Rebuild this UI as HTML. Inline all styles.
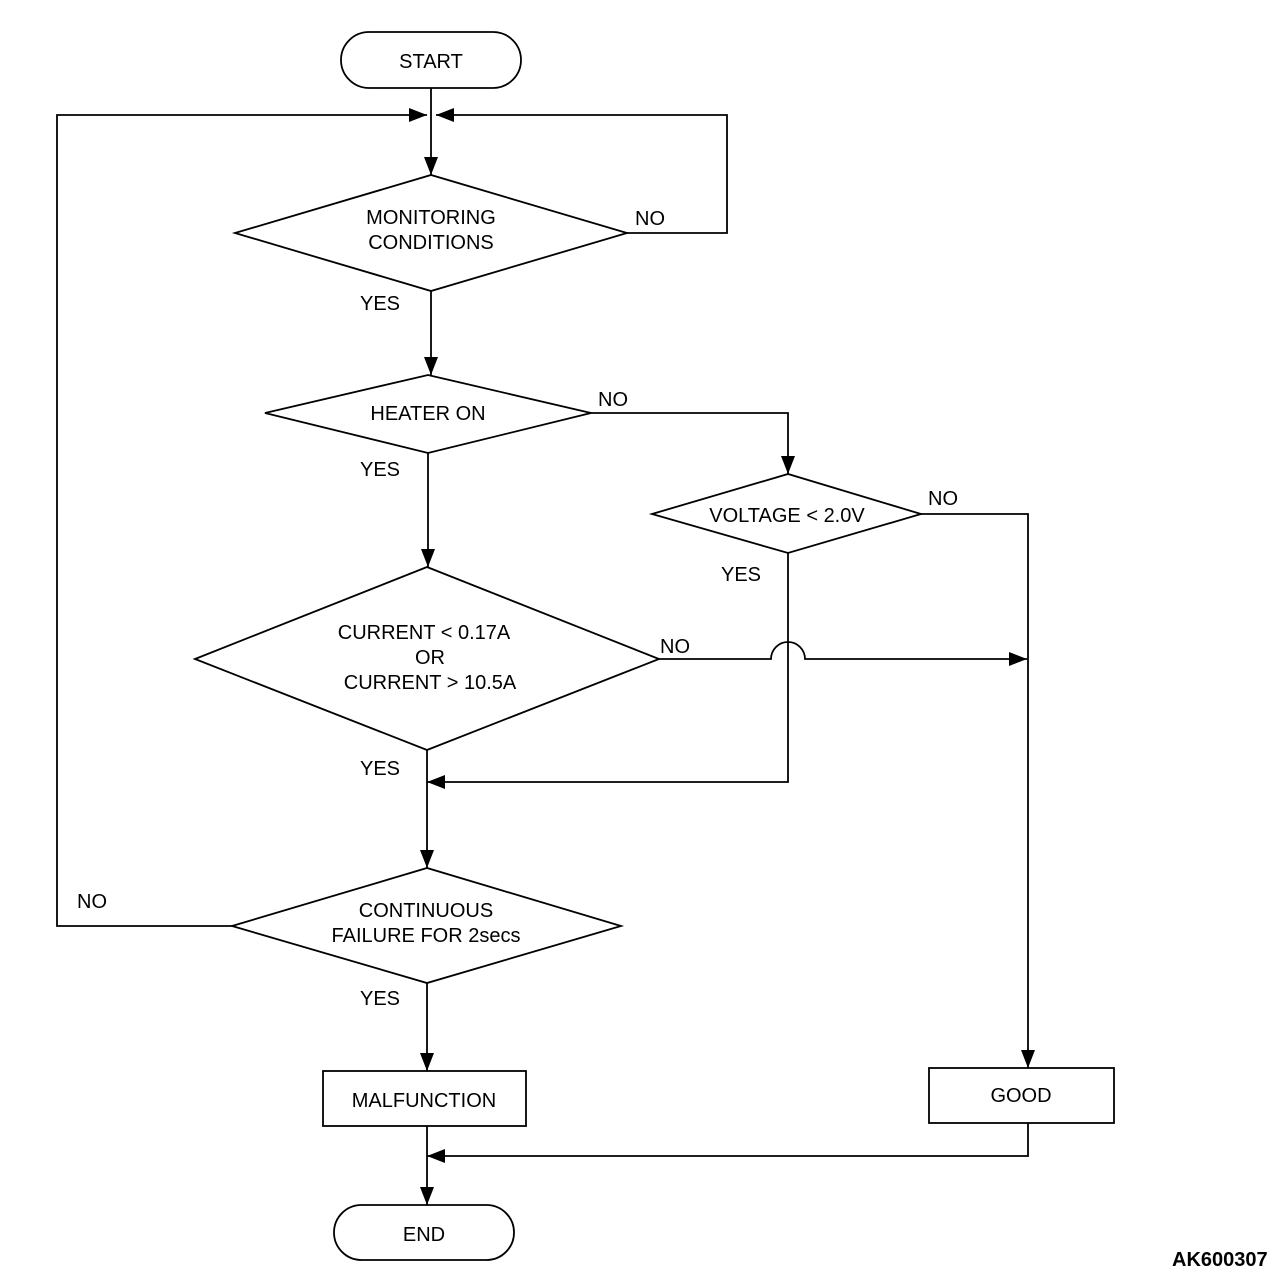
<!DOCTYPE html>
<html><head><meta charset="utf-8"><style>
html,body{margin:0;padding:0;background:#fff;}
svg{display:block;}
text{font-family:"Liberation Sans",sans-serif;font-size:20px;fill:#000;}
</style></head><body>
<svg width="1280" height="1288" viewBox="0 0 1280 1288" xmlns="http://www.w3.org/2000/svg">
<defs>
<marker id="a" viewBox="0 0 18 14" refX="18" refY="7" markerWidth="18" markerHeight="14" markerUnits="userSpaceOnUse" orient="auto">
<path d="M0,0 L18,7 L0,14 Z" fill="#000"/></marker>
</defs>
<g fill="none" stroke="#000" stroke-width="1.8">
<rect x="341" y="32" width="180" height="56" rx="28"/>
<rect x="334" y="1205" width="180" height="55" rx="27.5"/>
<rect x="323" y="1071" width="203" height="55"/>
<rect x="929" y="1068" width="185" height="55"/>
<polygon points="235,233 431,175 627,233 431,291"/>
<polygon points="265,413 428,375 591,413 428,453"/>
<polygon points="195,659 427,567 659,659 427,750"/>
<polygon points="652,514 788,474 921,514 788,553"/>
<polygon points="232,926 427,868 621,926 427,983"/>
<line x1="431" y1="88" x2="431" y2="175" marker-end="url(#a)"/>
<polyline points="232,926 57,926 57,115 427,115" marker-end="url(#a)"/>
<polyline points="627,233 727,233 727,115 436,115" marker-end="url(#a)"/>
<line x1="431" y1="291" x2="431" y2="375" marker-end="url(#a)"/>
<polyline points="591,413 788,413 788,474" marker-end="url(#a)"/>
<line x1="428" y1="453" x2="428" y2="567" marker-end="url(#a)"/>
<path d="M659,659 L771,659 A17,17 0 0 1 805,659 L1027,659" marker-end="url(#a)"/>
<polyline points="921,514 1028,514 1028,1068" marker-end="url(#a)"/>
<polyline points="788,553 788,782 427,782" marker-end="url(#a)"/>
<line x1="427" y1="750" x2="427" y2="868" marker-end="url(#a)"/>
<line x1="427" y1="983" x2="427" y2="1071" marker-end="url(#a)"/>
<line x1="427" y1="1126" x2="427" y2="1205" marker-end="url(#a)"/>
<polyline points="1028,1123 1028,1156 427,1156" marker-end="url(#a)"/>
</g>
<g text-anchor="middle">
<text x="431" y="68" font-size="22">START</text>
<text x="424" y="1241" font-size="22">END</text>
<text x="431" y="224">MONITORING</text>
<text x="431" y="249">CONDITIONS</text>
<text x="428" y="420">HEATER ON</text>
<text x="424" y="639">CURRENT &lt; 0.17A</text>
<text x="430" y="664">OR</text>
<text x="430" y="689">CURRENT &gt; 10.5A</text>
<text x="787" y="522">VOLTAGE &lt; 2.0V</text>
<text x="426" y="917">CONTINUOUS</text>
<text x="426" y="942">FAILURE FOR 2secs</text>
<text x="424" y="1107">MALFUNCTION</text>
<text x="1021" y="1102">GOOD</text>
</g>
<g>
<text x="635" y="225">NO</text>
<text x="360" y="310">YES</text>
<text x="598" y="406">NO</text>
<text x="360" y="476">YES</text>
<text x="928" y="505">NO</text>
<text x="721" y="581">YES</text>
<text x="660" y="653">NO</text>
<text x="360" y="775">YES</text>
<text x="77" y="908">NO</text>
<text x="360" y="1005">YES</text>
<text x="1172" y="1266" font-size="17" font-weight="bold">AK600307</text>
</g>
</svg>
</body></html>
